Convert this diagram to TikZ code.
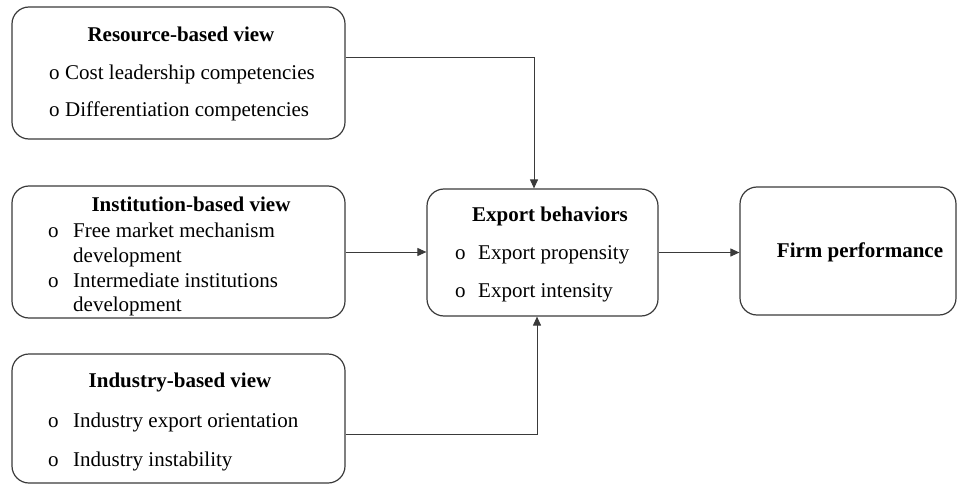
\documentclass[tikz,border=0pt]{standalone}
\usepackage{fontspec}
\setmainfont{Liberation Serif}
\usetikzlibrary{arrows.meta}
\definecolor{boxline}{HTML}{3A3A3A}
\newcommand{\bul}[1]{\makebox[#1][l]{o}}

\begin{document}
\begin{tikzpicture}[x=1pt, y=-1pt,
    font=\fontsize{21}{25}\selectfont,
    viewbox/.style={draw=boxline, line width=1.2pt, rounded corners=17pt, inner sep=0pt, minimum width=#1},
    viewbox/.default=333pt,
    head/.style={anchor=base, inner sep=0pt, font=\fontsize{21}{25}\selectfont\bfseries},
    item/.style={anchor=base west, inner sep=0pt},
    flow/.style={draw=boxline, line width=1pt, -{Triangle[length=9pt, width=8pt]}}]
        \useasboundingbox (0,0) rectangle (958,484);
        % Boxes
        \node[viewbox, minimum height=132pt] (RB) at (178.5, 73) {};
        \node[viewbox, minimum height=132pt] (IB) at (178.5, 252) {};
        \node[viewbox, minimum height=129pt] (DB) at (178.5, 418.5) {};
        \node[viewbox=231pt, minimum height=127pt] (EB) at (542.5, 252.5) {};
        \node[viewbox=216pt, minimum height=128pt] (FP) at (848, 251) {};
        % Resource-based view
        \node[head] (rbt) at (181, 42) {Resource-based view};
        \node[item] (rb1) at (49, 80) {\bul{16pt}Cost leadership competencies};
        \node[item] (rb2) at (49, 117) {\bul{16pt}Differentiation competencies};
        % Institution-based view
        \node[head] (ibt) at (191, 211) {Institution-based view};
        \node[item] (ib1) at (48, 237) {\bul{25pt}Free market mechanism};
        \node[item] (ib2) at (73, 262) {development};
        \node[item] (ib3) at (48, 287) {\bul{25pt}Intermediate institutions};
        \node[item] (ib4) at (73, 311) {development};
        % Industry-based view
        \node[head] (dbt) at (180, 387) {Industry-based view};
        \node[item] (db1) at (48, 427) {\bul{25pt}Industry export orientation};
        \node[item] (db2) at (48, 466) {\bul{25pt}Industry instability};
        % Export behaviors
        \node[head] (ebt) at (550, 221) {Export behaviors};
        \node[item] (eb1) at (455, 259) {\bul{23pt}Export propensity};
        \node[item] (eb2) at (455, 297) {\bul{23pt}Export intensity};
        % Firm performance
        \node[head] (fpt) at (860, 257) {Firm performance};
        % Arrows
        \draw[flow] ([yshift=15pt]RB.east) -| ([xshift=-8.5pt]EB.north);
        \draw[flow] (IB.east) -- (IB.east -| EB.west);
        \draw[flow] ([yshift=-15.5pt]DB.east) -| ([xshift=-5.5pt]EB.south);
        \draw[flow] (EB.east) -- (EB.east -| FP.west);
    \end{tikzpicture}
\end{document}
